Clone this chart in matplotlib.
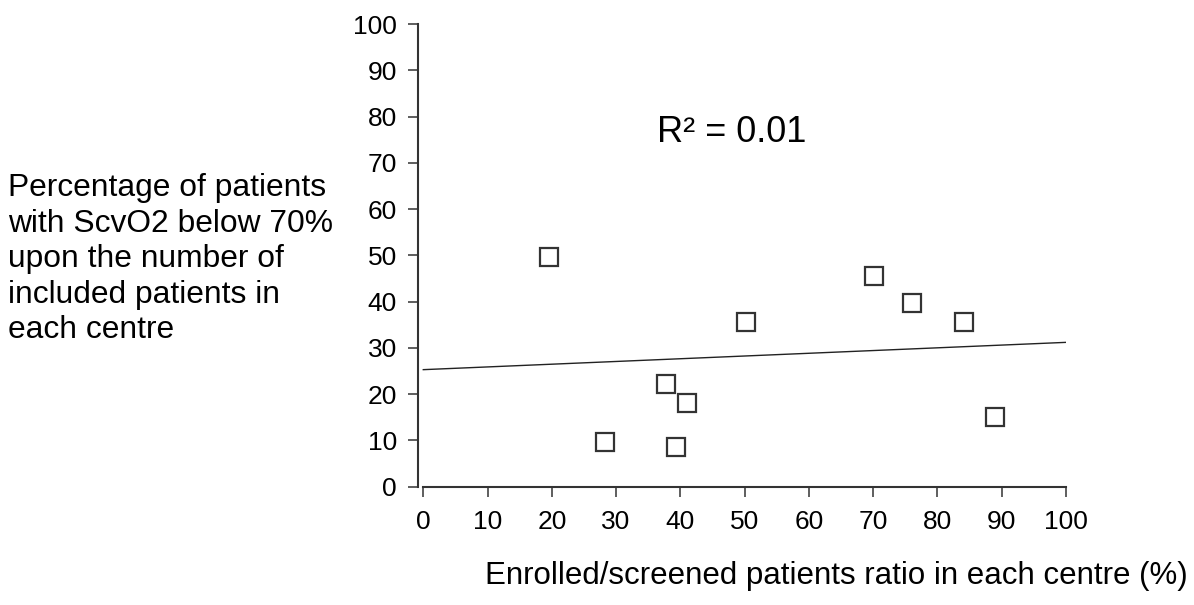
import numpy as np
import matplotlib
matplotlib.use('Agg')
import matplotlib.pyplot as plt

# ── data ─────────────────────────────────────────────────────────────────────
ratio_pct = [19.6, 28.3, 37.7, 39.3, 41.1, 50.2, 70.1, 76.1, 84.1, 89.0]
scvo2_pct = [49.7, 9.7, 22.3, 8.6, 18.1, 35.7, 45.5, 39.6, 35.7, 15.0]
fit_x = [0, 100]
fit_y = [25.3, 31.2]
ticks = list(range(0, 101, 10))

plt.rcParams['font.family'] = ['Liberation Sans', 'DejaVu Sans']

fig = plt.figure(figsize=(11.94, 6.05), dpi=100)
ax = fig.add_axes([0.3529, 0.1955, 0.8928 - 0.3529, 0.9603 - 0.1955])

ax.plot(fit_x, fit_y, color='#222222', lw=1.0)
ax.plot(ratio_pct, scvo2_pct, ls='none', marker='s', ms=13.5,
        mfc='white', mec='#333333', mew=1.6)

ax.set_xlim(-0.3, 100)
ax.set_ylim(0, 100)
ax.set_xticks(ticks)
ax.set_yticks(ticks)

for s in ['top', 'right']:
    ax.spines[s].set_visible(False)
for s in ['left', 'bottom']:
    ax.spines[s].set_linewidth(1.5)
    ax.spines[s].set_color('#333333')
ax.spines['left'].set_position(('outward', 2.7))
ax.spines['left'].set_bounds(0, 100)
ax.spines['bottom'].set_bounds(0, 100)

ax.tick_params(axis='both', length=7, width=1.1, color='#333333',
               labelsize=19)
ax.tick_params(axis='y', pad=8)
ax.tick_params(axis='x', pad=10)

ax.text(36.3, 74.6, 'R² = 0.01', fontsize=26, ha='left', va='baseline')

# multi-line text: 'baseline' lines up the last line
fig.text(8 / 1194, 1 - 338 / 605,
         'Percentage of patients\nwith ScvO2 below 70%\nupon the number of\n'
         'included patients in\neach centre',
         fontsize=22.9, ha='left', va='baseline', linespacing=1.236)
fig.text(1188 / 1194, 1 - 584 / 605,
         'Enrolled/screened patients ratio in each centre (%)',
         fontsize=22.5, ha='right', va='baseline')

fig.savefig('out.png', dpi=100)
